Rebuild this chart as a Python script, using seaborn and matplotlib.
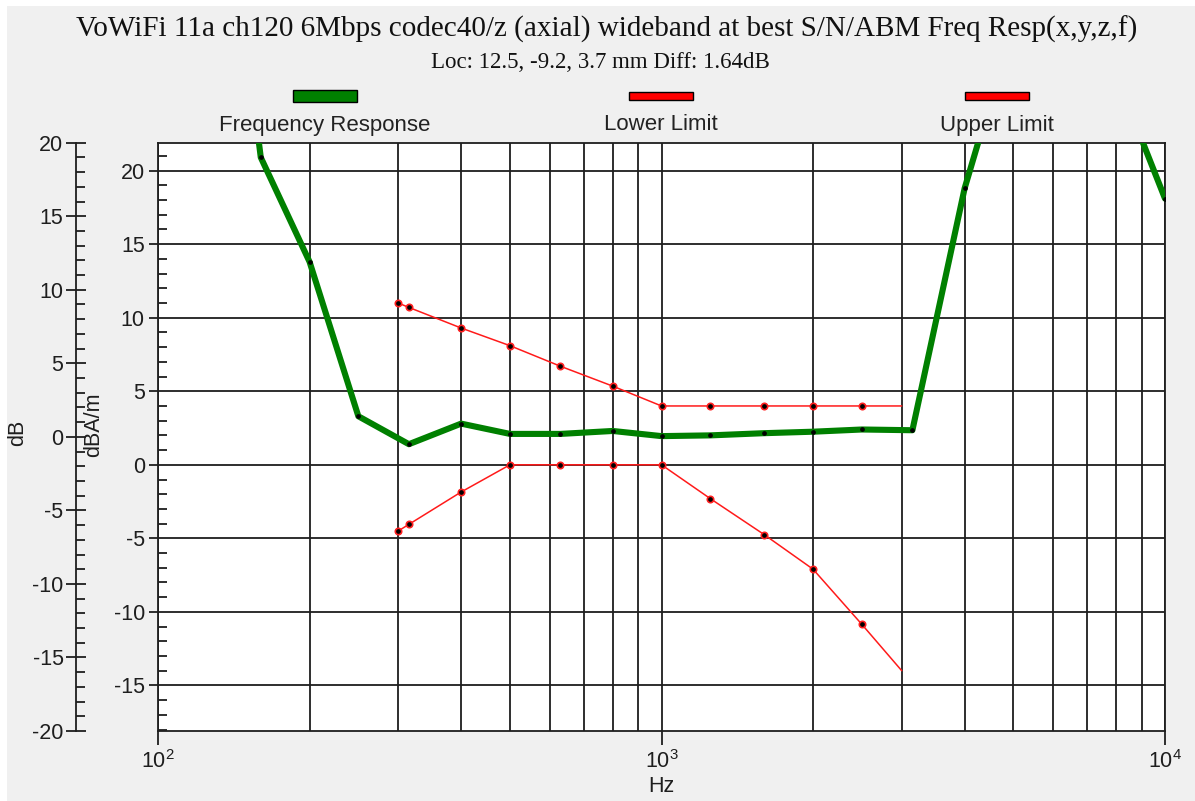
import numpy as np
import pandas as pd
import matplotlib
matplotlib.use("Agg")
import matplotlib.pyplot as plt
from matplotlib.patches import Rectangle
from matplotlib.ticker import MultipleLocator, LogLocator
import seaborn as sns

# data
resp_hz = [125, 160, 200, 250, 315, 400, 500, 630, 800, 1000, 1250, 1600, 2000, 2500, 3150, 4000, 5000, 6300, 8000, 10000]
resp_db = [50, 20.9, 13.8, 3.3, 1.4, 2.8, 2.1, 2.1, 2.3, 1.95, 2.0, 2.15, 2.25, 2.4, 2.35, 18.8, 30, 31, 26.5, 18.1]

limit_hz = [300, 315, 400, 500, 630, 800, 1000, 1250, 1600, 2000, 2500, 3000]
lower_db = [-4.5, -4.05, -1.85, 0, 0, 0, 0, -2.3, -4.75, -7.1, -10.85, -14]
upper_db = [11, 10.7, 9.3, 8.1, 6.7, 5.35, 4, 4, 4, 4, 4, 4]

legend_labels = ["Frequency Response", "Lower Limit", "Upper Limit"]
legend_colors = ["#008000", "#ff0000", "#ff0000"]

title = "VoWiFi 11a ch120 6Mbps codec40/z (axial) wideband at best S/N/ABM Freq Resp(x,y,z,f)"
subtitle = "Loc: 12.5, -9.2, 3.7 mm Diff: 1.64dB"

sns.set_theme(style="ticks")
plt.rcParams["font.family"] = ["Liberation Sans", "DejaVu Sans"]
plt.rcParams["axes.unicode_minus"] = False
plt.rcParams["mathtext.default"] = "regular"

W, H = 1195, 801
ink = "#1e1e1e"
fig = plt.figure(figsize=(W / 100, H / 100), dpi=100, facecolor="white")
fig.add_artist(Rectangle((7 / W, 0), 1, 1 - 6 / H, transform=fig.transFigure,
                         facecolor="#f0f0f0", edgecolor="none", zorder=-10))

ax = fig.add_axes([158 / W, 70 / H, 1007 / W, 588.3 / H])
ax.set_facecolor("white")
ax.set_xscale("log")

resp = pd.DataFrame({"Hz": resp_hz, "dB": resp_db})
lim = pd.DataFrame({"Hz": limit_hz, "lower": lower_db, "upper": upper_db})

sns.lineplot(data=resp, x="Hz", y="dB", ax=ax, color="#008000", linewidth=4.4,
             marker="o", markersize=2.6, markerfacecolor="black", markeredgecolor="black",
             zorder=3)
for col in ["lower", "upper"]:
    sns.lineplot(data=lim, x="Hz", y=col, ax=ax, color="#ff1a1a", linewidth=1.1,
                 marker="o", markersize=4.6, markerfacecolor="black", markeredgecolor="#ff2020",
                 markeredgewidth=1.2, markevery=list(range(len(limit_hz) - 1)), zorder=4)

ax.set_xlim(100, 10000)
ax.set_ylim(-18.1, 21.9)

ax.yaxis.set_major_locator(MultipleLocator(5))
ax.yaxis.set_minor_locator(MultipleLocator(1))
ax.xaxis.set_major_locator(LogLocator(base=10))
ax.xaxis.set_minor_locator(LogLocator(base=10, subs=np.arange(2, 10)))

ax.grid(which="major", axis="y", color=ink, lw=1.3)
ax.grid(which="both", axis="x", color=ink, lw=1.3)
ax.set_axisbelow(True)
for s in ax.spines.values():
    s.set_color(ink)
    s.set_linewidth(1.3)
    s.set_visible(True)

ax.tick_params(axis="y", which="major", direction="out", length=6.5, width=1.3, color=ink,
               labelsize=15.5, labelcolor=ink, pad=3)
ax.tick_params(axis="y", which="minor", direction="in", length=6.5, width=1.3, color=ink)
ax.tick_params(axis="x", which="major", direction="out", length=10, width=1.3, color=ink,
               labelsize=15.5, labelcolor=ink, pad=4)
ax.tick_params(axis="x", which="minor", length=0, labelbottom=False)

ax.set_xlabel("Hz", fontsize=15.5, color=ink)
ax.xaxis.set_label_coords(0.5, -0.077)
ax.set_ylabel("dBA/m", fontsize=15.5, color=ink)
ax.yaxis.set_label_coords(-0.0536, 0.52)

# outer dB axis on the left
ax2 = ax.twinx()
ax2.set_ylim(-20, 20)
ax2.yaxis.tick_left()
ax2.yaxis.set_label_position("left")
ax2.spines["left"].set_position(("axes", -82 / 1007))
for side in ["right", "top", "bottom"]:
    ax2.spines[side].set_visible(False)
ax2.spines["left"].set_visible(True)
ax2.spines["left"].set_color(ink)
ax2.spines["left"].set_linewidth(1.3)
ax2.yaxis.set_major_locator(MultipleLocator(5))
ax2.yaxis.set_minor_locator(MultipleLocator(1))
ax2.tick_params(axis="y", which="major", direction="inout", length=14, width=1.3, color=ink,
                labelsize=15.5, labelcolor=ink, pad=2)
ax2.tick_params(axis="y", which="minor", direction="in", length=6.5, width=1.3, color=ink)
ax2.set_ylabel("dB", fontsize=15.5, color=ink)
ax2.yaxis.set_label_coords(-0.129, 0.507)

# titles
fig.text(607 / W, 1 - 29 / H, title, ha="center", va="center", fontsize=21,
         family="Liberation Serif", color="#111111")
fig.text(600 / W, 1 - 62 / H, subtitle, ha="center", va="center", fontsize=16.5,
         family="Liberation Serif", color="#111111")

# legend: swatch above label
for cx, lab, col, h in zip([325, 661, 997], legend_labels, legend_colors, [11, 7, 7]):
    fig.add_artist(Rectangle(((cx - 32) / W, 1 - (96 + h / 2) / H), 64 / W, h / H,
                             transform=fig.transFigure, facecolor=col,
                             edgecolor="black", lw=1.0))
    fig.text(cx / W, 1 - 125 / H, lab, ha="center", va="center", fontsize=16, color="#222222")

fig.savefig("out.png", dpi=100, facecolor=fig.get_facecolor())
